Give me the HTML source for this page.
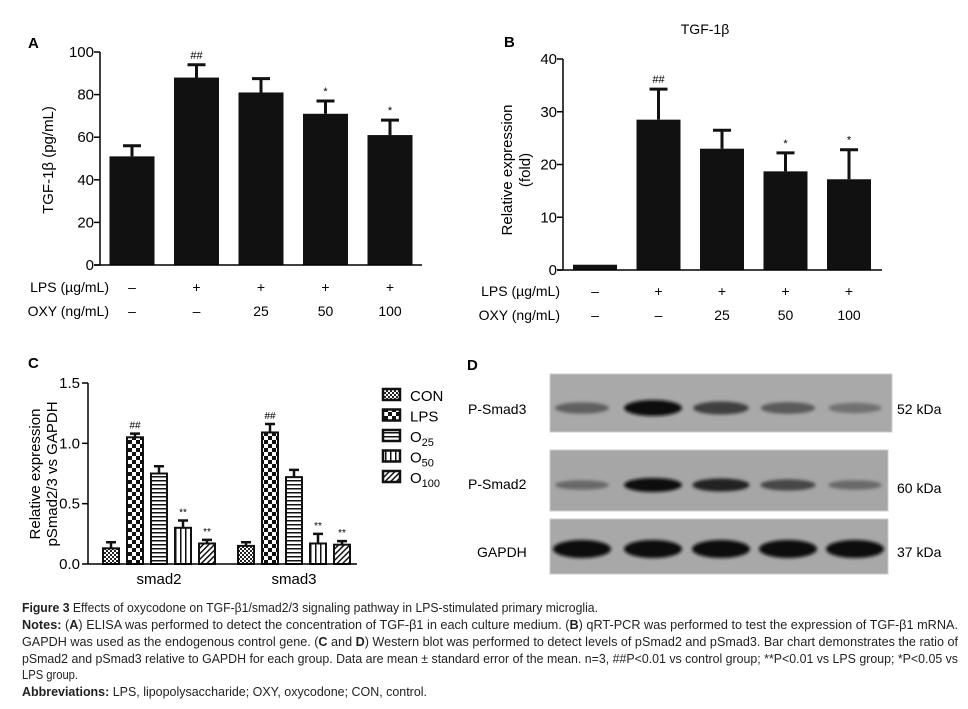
<!DOCTYPE html>
<html><head><meta charset="utf-8"><style>
body{margin:0;background:#fff}
svg{display:block;font-family:"Liberation Sans",sans-serif}
</style></head><body>
<svg id="fig" width="968" height="709" viewBox="0 0 968 709" xmlns="http://www.w3.org/2000/svg">
<defs>
<pattern id="pCon" width="4" height="4" patternUnits="userSpaceOnUse"><rect width="4" height="4" fill="#fff"/><rect width="2" height="2" fill="#222"/><rect x="2" y="2" width="2" height="2" fill="#222"/></pattern>
<pattern id="pLps" width="8" height="8" patternUnits="userSpaceOnUse"><rect width="8" height="8" fill="#fff"/><rect width="4" height="4" fill="#111"/><rect x="4" y="4" width="4" height="4" fill="#111"/></pattern>
<pattern id="pO25" width="4" height="4" patternUnits="userSpaceOnUse"><rect width="4" height="4" fill="#fff"/><rect width="4" height="1.5" fill="#111"/></pattern>
<pattern id="pO50" width="5" height="5" patternUnits="userSpaceOnUse"><rect width="5" height="5" fill="#fff"/><rect width="1.5" height="5" fill="#111"/></pattern>
<pattern id="pO100" width="4" height="4" patternUnits="userSpaceOnUse" patternTransform="rotate(45)"><rect width="4" height="4" fill="#fff"/><rect width="1.5" height="4" fill="#111"/></pattern>
<filter id="blur" x="-20%" y="-50%" width="140%" height="200%"><feGaussianBlur stdDeviation="1.5"/></filter>
</defs>
<g id="panelA"></g>
<g id="panelB"></g>
<g id="panelC"></g>
<g id="panelD">
<text x="467" y="370" font-size="15" font-weight="bold">D</text>
<rect x="550" y="374" width="342" height="58" fill="#a9a9a9" stroke="#ccc"/>
<rect x="550" y="450" width="338" height="61" fill="#a6a6a6" stroke="#ccc"/>
<rect x="550" y="519" width="338" height="55" fill="#a8a8a8" stroke="#ccc"/>
<text x="468" y="414" font-size="14">P-Smad3</text>
<text x="468" y="489" font-size="14">P-Smad2</text>
<text x="477" y="557" font-size="14">GAPDH</text>
<text x="897" y="414" font-size="14">52 kDa</text>
<text x="897" y="493" font-size="14">60 kDa</text>
<text x="897" y="557" font-size="14">37 kDa</text>
</g>
<g id="caption" font-size="12.5" fill="#231f20">
<text x="22" y="612" textLength="576" lengthAdjust="spacingAndGlyphs"><tspan font-weight="bold">Figure 3</tspan> Effects of oxycodone on TGF-β1/smad2/3 signaling pathway in LPS-stimulated primary microglia.</text>
<text x="22" y="629" textLength="936" lengthAdjust="spacingAndGlyphs"><tspan font-weight="bold">Notes:</tspan> (<tspan font-weight="bold">A</tspan>) ELISA was performed to detect the concentration of TGF-β1 in each culture medium. (<tspan font-weight="bold">B</tspan>) qRT-PCR was performed to test the expression of TGF-β1 mRNA.</text>
<text x="22" y="646" textLength="936" lengthAdjust="spacingAndGlyphs">GAPDH was used as the endogenous control gene. (<tspan font-weight="bold">C</tspan> and <tspan font-weight="bold">D</tspan>) Western blot was performed to detect levels of pSmad2 and pSmad3. Bar chart demonstrates the ratio of</text>
<text x="22" y="663" textLength="936" lengthAdjust="spacingAndGlyphs">pSmad2 and pSmad3 relative to GAPDH for each group. Data are mean ± standard error of the mean. n=3, ##P&lt;0.01 vs control group; **P&lt;0.01 vs LPS group; *P&lt;0.05 vs</text>
<text x="22" y="679" textLength="56" lengthAdjust="spacingAndGlyphs">LPS group.</text>
<text x="22" y="696" textLength="405" lengthAdjust="spacingAndGlyphs"><tspan font-weight="bold">Abbreviations:</tspan> LPS, lipopolysaccharide; OXY, oxycodone; CON, control.</text>
</g>
</svg>
<script>
// ---- Panel A data ----
const aValues = [51, 88, 81, 71, 61];
const aErrors = [5, 6, 6.5, 6, 7];
const aMarks = ["", "##", "", "*", "*"];
const aTicks = [0, 20, 40, 60, 80, 100];
// ---- Panel B data ----
const bValues = [1, 28.5, 23, 18.7, 17.2];
const bErrors = [0, 5.8, 3.5, 3.5, 5.6];
const bMarks = ["", "##", "", "*", "*"];
const bTicks = [0, 10, 20, 30, 40];
// ---- shared group labels ----
const lpsRow = ["–", "+", "+", "+", "+"];
const oxyRow = ["–", "–", "25", "50", "100"];
// ---- Panel C data ----
const cCategories = ["smad2", "smad3"];
const cSeries = ["CON", "LPS", "O25", "O50", "O100"];
const cSmad2 = [0.13, 1.05, 0.75, 0.30, 0.17];
const cSmad3 = [0.15, 1.09, 0.72, 0.17, 0.16];
const cErr2 = [0.05, 0.03, 0.06, 0.06, 0.03];
const cErr3 = [0.03, 0.07, 0.06, 0.08, 0.03];
const cMarks = ["", "##", "", "**", "**"];
const cTicks = [0.0, 0.5, 1.0, 1.5];
// ---- Panel D band intensities (0-1) ----
const dSmad3 = [0.35, 1.0, 0.6, 0.4, 0.22];
const dSmad2 = [0.3, 1.0, 0.85, 0.55, 0.28];
const dGapdh = [1, 1, 1, 1, 1];

const NS = "http://www.w3.org/2000/svg";
function el(parent, tag, attrs, text) {
  const e = document.createElementNS(NS, tag);
  for (const k in attrs) e.setAttribute(k, attrs[k]);
  if (text !== undefined) e.textContent = text;
  parent.appendChild(e);
  return e;
}

function barPanel(g, o) {
  const y = v => o.y0 - (v - 0) / o.max * (o.y0 - o.yTop);
  const x = i => o.x0 + o.first + i * o.step;
  let t = el(g, "text", {x: o.labX, y: o.labY, "font-size": 15, "font-weight": "bold"}, o.letter);
  
  
  let ax = el(g, "line", {x1: o.x0, y1: o.y0, x2: o.x0, y2: o.yTop, stroke: "#000", "stroke-width": 1.5});
  
  
  o.ticks.forEach(v => {
    let l = el(g, "line", {x1: o.x0 - 6, y1: y(v), x2: o.x0, y2: y(v), stroke: "#000", "stroke-width": 1.5});
    
    
    let tl = el(g, "text", {x: o.x0 - 6, y: y(v) + 5, "font-size": 15, "text-anchor": "end"}, v);
    
    
  });
  o.values.forEach((v, i) => {
    const cx = x(i), top = y(v + o.errors[i]);
    if (o.errors[i] > 0) {
      let e = el(g, "path", {d: `M${cx},${y(v)}V${top}M${cx - 9},${top}H${cx + 9}`, stroke: "#111", "stroke-width": 3, fill: "none"});
      
      
    }
    let r = el(g, "rect", {x: cx - o.bw / 2, y: y(v), width: o.bw, height: o.y0 - y(v), fill: "#111"});
    
    
    if (o.marks[i]) {
      let m = el(g, "text", {x: cx, y: top - 6, "font-size": 11, "text-anchor": "middle"}, o.marks[i]);
      
      
    }
    let a = el(g, "text", {x: cx, y: o.rowY1, "font-size": 14, "text-anchor": "middle"}, lpsRow[i]);
    
    
    let b = el(g, "text", {x: cx, y: o.rowY2, "font-size": 14, "text-anchor": "middle"}, oxyRow[i]);
    
    
  });
  let xa = el(g, "line", {x1: o.x0 - 6, y1: o.y0, x2: o.xEnd, y2: o.y0, stroke: "#000", "stroke-width": 1.5});
  
  
  let l1 = el(g, "text", {x: o.rowLabX, y: o.rowY1, "font-size": 14, "text-anchor": "end"}, "LPS (µg/mL)");
  
  
  let l2 = el(g, "text", {x: o.rowLabX, y: o.rowY2, "font-size": 14, "text-anchor": "end"}, "OXY (ng/mL)");
  
  
}

const gA = document.getElementById("panelA");
barPanel(gA, {letter: "A", labX: 28, labY: 48, x0: 100, y0: 265, yTop: 52, max: 100, ticks: aTicks,
  values: aValues, errors: aErrors, marks: aMarks, first: 32, step: 64.5, bw: 45, xEnd: 422,
  rowY1: 292, rowY2: 316, rowLabX: 109});
let ta = el(gA, "text", {transform: "translate(53,160) rotate(-90)", "font-size": 15, "text-anchor": "middle"}, "TGF-1β (pg/mL)");



const gB = document.getElementById("panelB");
barPanel(gB, {letter: "B", labX: 504, labY: 47, x0: 563, y0: 270, yTop: 59, max: 40, ticks: bTicks,
  values: bValues, errors: bErrors, marks: bMarks, first: 32, step: 63.5, bw: 44, xEnd: 882,
  rowY1: 296, rowY2: 320, rowLabX: 560});
let tb = el(gB, "text", {x: 705, y: 34, "font-size": 14, "text-anchor": "middle"}, "TGF-1β");


let tb1 = el(gB, "text", {transform: "translate(512,170) rotate(-90)", "font-size": 15, "text-anchor": "middle"}, "Relative expression");


let tb2 = el(gB, "text", {transform: "translate(530,170) rotate(-90)", "font-size": 15, "text-anchor": "middle"}, "(fold)");



// Panel C
const gC = document.getElementById("panelC");
const pats = ["url(#pCon)", "url(#pLps)", "url(#pO25)", "url(#pO50)", "url(#pO100)"];
const cx0 = 88, cy0 = 564, cyTop = 383, cMax = 1.5;
const yC = v => cy0 - v / cMax * (cy0 - cyTop);
const xC = (g, s) => 159 + g * 135 + (s - 2) * 24;
let lc = el(gC, "text", {x: 28, y: 368, "font-size": 15, "font-weight": "bold"}, "C");


let cya = el(gC, "line", {x1: cx0, y1: cy0, x2: cx0, y2: cyTop, stroke: "#000", "stroke-width": 1.5});


cTicks.forEach(v => {
  let l = el(gC, "line", {x1: cx0 - 6, y1: yC(v), x2: cx0, y2: yC(v), stroke: "#000", "stroke-width": 1.5});
  
  
  let t = el(gC, "text", {x: cx0 - 8, y: yC(v) + 5, "font-size": 15, "text-anchor": "end"}, v.toFixed(1));
  
  
});
[cSmad2, cSmad3].forEach((vals, g) => {
  const errs = g === 0 ? cErr2 : cErr3;
  vals.forEach((v, s) => {
    const cx = xC(g, s), top = yC(v + errs[s]);
    let e = el(gC, "path", {d: `M${cx},${yC(v)}V${top}M${cx - 5},${top}H${cx + 5}`, stroke: "#111", "stroke-width": 2.5, fill: "none"});
    
    
    let r = el(gC, "rect", {x: cx - 8, y: yC(v), width: 16, height: cy0 - yC(v), fill: pats[s], stroke: "#111", "stroke-width": 2});
    
    
    if (cMarks[s]) {
      let m = el(gC, "text", {x: cx, y: top - 5, "font-size": 10, "text-anchor": "middle"}, cMarks[s]);
      
      
    }
  });
  let cl = el(gC, "text", {x: xC(g, 2), y: 584, "font-size": 15, "text-anchor": "middle"}, cCategories[g]);
  
  
});
let cxa = el(gC, "line", {x1: cx0, y1: cy0, x2: 357, y2: cy0, stroke: "#000", "stroke-width": 1.5});


let cy1 = el(gC, "text", {transform: "translate(40,474) rotate(-90)", "font-size": 15, "text-anchor": "middle"}, "Relative expression");


let cy2 = el(gC, "text", {transform: "translate(57,474) rotate(-90)", "font-size": 15, "text-anchor": "middle"}, "pSmad2/3 vs GAPDH");


const legLabels = [["CON", ""], ["LPS", ""], ["O", "25"], ["O", "50"], ["O", "100"]];
legLabels.forEach((lab, s) => {
  const ly = 395 + s * 20.5;
  let r = el(gC, "rect", {x: 383, y: ly - 6, width: 17, height: 11, fill: pats[s], stroke: "#111", "stroke-width": 2.5});
  
  
  let t = el(gC, "text", {x: 410, y: ly + 6, "font-size": 15}, lab[0]);
  
  
  if (lab[1]) el(t, "tspan", {dy: 4, "font-size": 11}, lab[1]);
});

// Panel D bands
const gD = document.getElementById("panelD");
const lanes = [582, 653, 721, 788, 855];
function bands(arr, cy, h, name) {
  arr.forEach((v, i) => {
    const shade = Math.round(140 - v * 125);
    const bh = h * (0.55 + v * 0.45);
    let b = el(gD, "ellipse", {cx: lanes[i], cy: cy, rx: 26 + v * 3, ry: bh / 2,
      fill: `rgb(${shade},${shade},${shade})`, filter: "url(#blur)"});
    
    
  });
}
bands(dSmad3, 408, 16, 'psmad3');
bands(dSmad2, 485, 14, 'psmad2');
bands(dGapdh, 549, 18, 'gapdh');
</script>
</body></html>
